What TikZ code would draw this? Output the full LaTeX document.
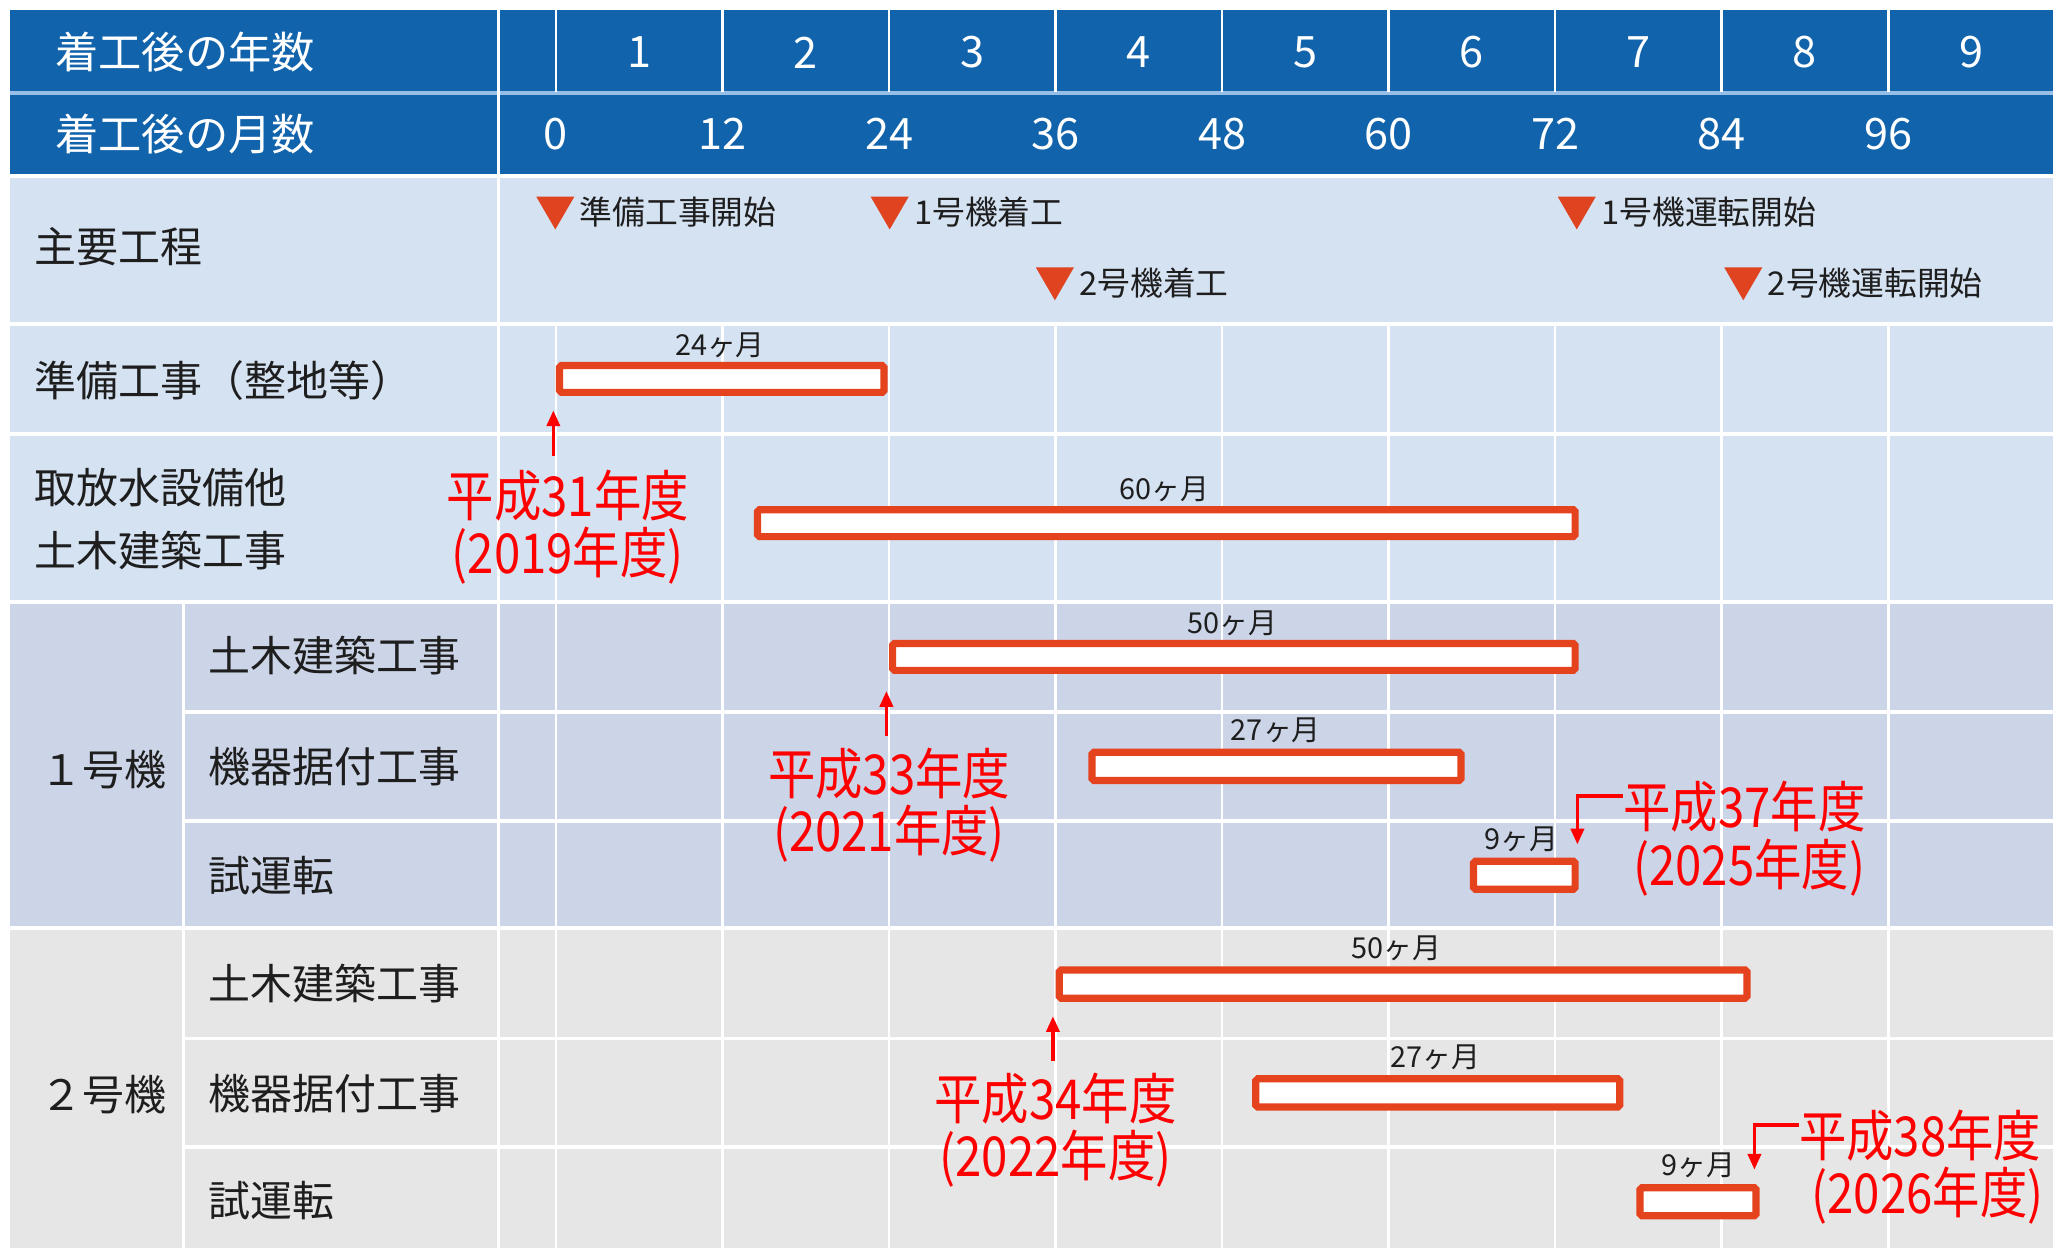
\documentclass[tikz,border=0pt]{standalone}
\usepackage{fontspec}
\setmainfont{Noto Sans CJK JP}
\usetikzlibrary{arrows.meta}
\definecolor{hdr}{RGB}{17,99,172}
\definecolor{rowA}{RGB}{213,226,242}
\definecolor{rowB}{RGB}{204,213,232}
\definecolor{rowC}{RGB}{230,230,230}
\definecolor{barred}{RGB}{228,67,30}
\definecolor{mscol}{RGB}{224,67,31}
\definecolor{sepblue}{RGB}{150,190,230}
\definecolor{txt}{RGB}{30,30,30}
\tikzset{
  bar/.style={draw=barred, line width=5.5pt, fill=white, rounded corners=1.5pt, inner sep=0pt},
  dur/.style={font=\fontsize{22}{24}\selectfont, text=txt, inner sep=0pt},
  hd/.style={font=\fontsize{33}{36}\selectfont, text=white, inner sep=0pt},
  lbl/.style={font=\fontsize{32}{48}\selectfont, text=txt, inner sep=0pt},
  ms/.style={font=\fontsize{25}{26}\selectfont, text=txt, inner sep=0pt, anchor=west},
  tri/.style={fill=mscol, draw=none},
  ann/.style={font=\fontsize{42}{46}\selectfont, text=red, inner sep=0pt, xscale=0.86},
  redarrow/.style={draw=red, line width=2.6pt, -{Triangle[length=12pt,width=10pt]}},
  gridw/.style={draw=white, line width=2pt},
  sepw/.style={draw=white, line width=3pt},
}
\begin{document}
\begin{tikzpicture}[x=1pt,y=-1pt]
\useasboundingbox (0,0) rectangle (1568,952);
\fill[white] (0,0) rectangle (1568,952);
% backgrounds
\fill[hdr] (8,8) rectangle (1566,133);
\fill[rowA] (8,133) rectangle (1566,459);
\fill[rowB] (8,459) rectangle (1566,708);
\fill[rowC] (8,708) rectangle (1566,952);
% header lines
\draw[sepblue, line width=3pt] (8,71) -- (1566,71);
\draw[gridw] (380,8) -- (380,133);
\foreach \x in {424,551,678,805,932,1059,1186,1313,1440} \draw[gridw] (\x,8) -- (\x,70);
% body grid
\foreach \x in {424,551,678,805,932,1059,1186,1313,1440} \draw[gridw] (\x,247) -- (\x,952);
\draw[sepw] (8,134) -- (1566,134);
\foreach \y in {247,331,459,708} \draw[sepw] (8,\y) -- (1566,\y);
\foreach \y in {543,626,792,875} \draw[sepw] (140,\y) -- (1566,\y);
\draw[gridw] (380,133) -- (380,952);
\draw[gridw] (140,459) -- (140,952);
% header text
\node[hd, anchor=west] (hy) at (42,40) {着工後の年数};
\node[hd, anchor=west] (hm) at (42,102) {着工後の月数};
\foreach \n [count=\i] in {1,...,9} \node[hd] (y\n) at (360.5+127*\i,40) {\n};
\foreach \m [count=\i from 0] in {0,12,24,36,48,60,72,84,96} \node[hd] (mo\m) at (424+127*\i,102) {\m};
% row labels
\node[lbl, anchor=west] (l1) at (26,188) {主要工程};
\node[lbl, anchor=west] (l2) at (26,290) {準備工事（整地等）};
\node[lbl, anchor=west, align=left] (l3) at (26,396) {取放水設備他\\土木建築工事};
\node[lbl] (g1) at (79,587) {１号機};
\node[lbl] (g2) at (79,835) {２号機};
\node[lbl, anchor=west] (s11) at (159,500) {土木建築工事};
\node[lbl, anchor=west] (s12) at (159,585) {機器据付工事};
\node[lbl, anchor=west] (s13) at (159,668) {試運転};
\node[lbl, anchor=west] (s21) at (159,750) {土木建築工事};
\node[lbl, anchor=west] (s22) at (159,834) {機器据付工事};
\node[lbl, anchor=west] (s23) at (159,916) {試運転};
% milestones
\node[ms] (m1) at (442,162) {準備工事開始};
\node[ms] (m2) at (697,162) {1号機着工};
\node[ms] (m3) at (1221,162) {1号機運転開始};
\node[ms] (m4) at (823,216) {2号機着工};
\node[ms] (m5) at (1348,216) {2号機運転開始};
\foreach \m in {m1,m2,m3,m4,m5}
  \fill[tri] ([xshift=-4pt,yshift=12pt]\m.west) -- ++(-29,0) -- ++(14.5,25) -- cycle;
% bars
\node[bar, minimum width=247.5pt, minimum height=20.5pt] (b1) at (550.5,289) {};
\node[bar, minimum width=623.5pt, minimum height=20.5pt] (b2) at (889.5,399) {};
\node[bar, minimum width=520.5pt, minimum height=20.5pt] (b3) at (941,501) {};
\node[bar, minimum width=281.5pt, minimum height=21.5pt] (b4) at (973.5,584.5) {};
\node[bar, minimum width=77.5pt, minimum height=21.5pt] (b5) at (1162.5,667.5) {};
\node[bar, minimum width=524.5pt, minimum height=21.5pt] (b6) at (1070,750.5) {};
\node[bar, minimum width=277.5pt, minimum height=21.5pt] (b7) at (1096.5,833.5) {};
\node[bar, minimum width=88.5pt, minimum height=21.5pt] (b8) at (1295,916.5) {};
% durations
\node[dur] (d1) at (549,263) {24ヶ月};
\node[dur] (d2) at (888,373) {60ヶ月};
\node[dur] (d3) at (940,475) {50ヶ月};
\node[dur] (d4) at (973,557) {27ヶ月};
\node[dur] (d5) at (1160,640) {9ヶ月};
\node[dur] (d6) at (1065,723) {50ヶ月};
\node[dur] (d7) at (1095,806) {27ヶ月};
\node[dur] (d8) at (1295,889) {9ヶ月};
% annotations
\node[ann] (a31) at (433,378) {平成31年度};
\node[ann] (a31b) at (433,424) {(2019年度)};
\node[ann] (a33) at (678,590) {平成33年度};
\node[ann] (a33b) at (678,636) {(2021年度)};
\node[ann] (a34) at (805,838) {平成34年度};
\node[ann] (a34b) at (805,884) {(2022年度)};
\node[ann, anchor=west] (a37) at (1238,615) {平成37年度};
\node[ann] (a37b) at (1334,662) {(2025年度)};
\node[ann, anchor=west] (a38) at (1372,866) {平成38年度};
\node[ann] (a38b) at (1470,912) {(2026年度)};
\draw[redarrow] ([xshift=-2pt,yshift=-46pt]b1.south west) -- ([xshift=-2pt,yshift=-11pt]b1.south west);
\draw[redarrow] ([xshift=-2pt,yshift=-47pt]b3.south west) -- ([xshift=-2pt,yshift=-13pt]b3.south west);
\draw[redarrow] ([xshift=-2pt,yshift=-45pt]b6.south west) -- ([xshift=-2pt,yshift=-11pt]b6.south west);
\draw[redarrow] ([yshift=8pt]a37.west) -| ([xshift=-1pt,yshift=10pt]b5.north east);
\draw[redarrow] ([yshift=8pt]a38.west) -| ([xshift=-4pt,yshift=11pt]b8.north east);
\end{tikzpicture}
\end{document}
